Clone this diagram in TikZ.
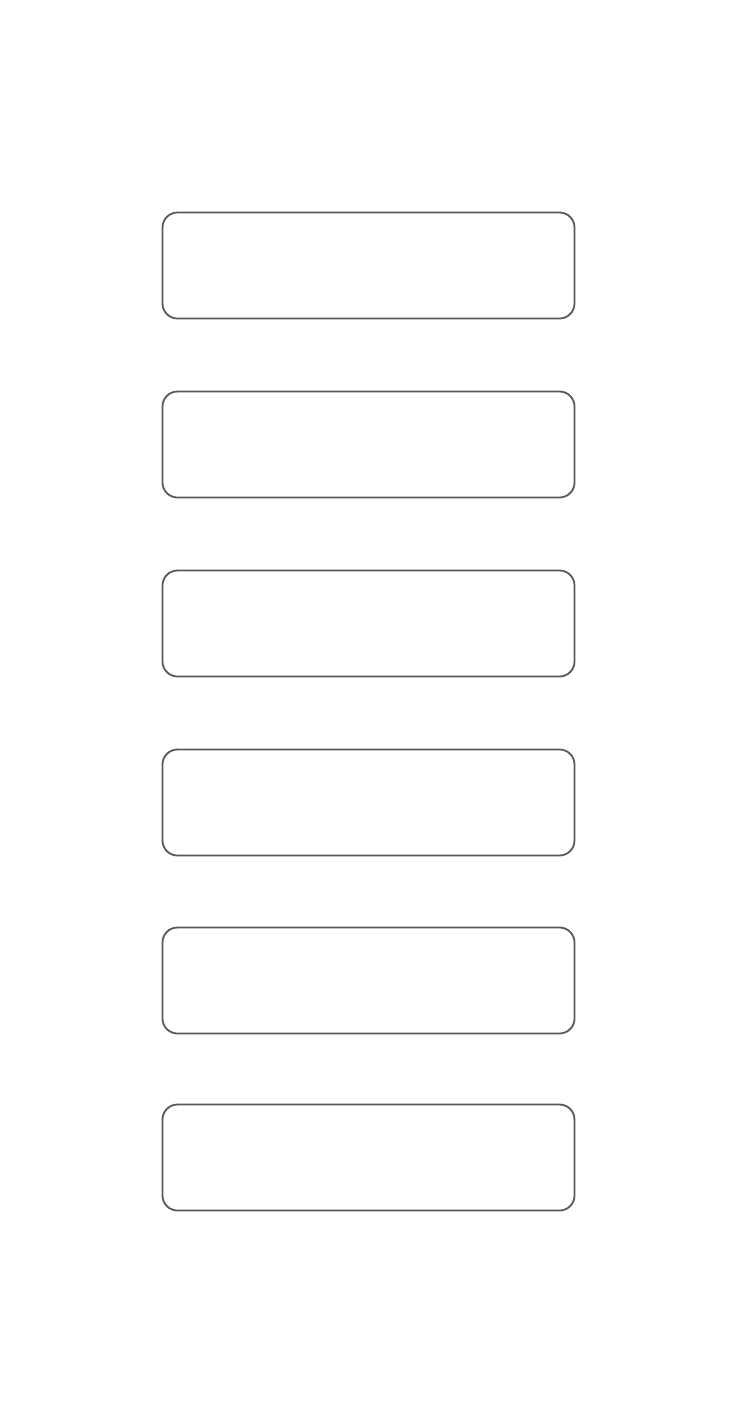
\documentclass[tikz,border=0pt]{standalone}
\begin{document}
\begin{tikzpicture}[x=1pt,y=-1pt,
  stagebox/.style={draw=black!65,line width=1.8pt,rounded corners=15pt,fill=white}]
\useasboundingbox[fill=white] (0,0) rectangle (734,1422);
\foreach \t [count=\i] in {212.5,391.5,570.5,749.5,927.5,1104.5}{
  \path[stagebox] (162.5,\t) rectangle (574.5,\t+106) coordinate (b\i);
}
\end{tikzpicture}
\end{document}
